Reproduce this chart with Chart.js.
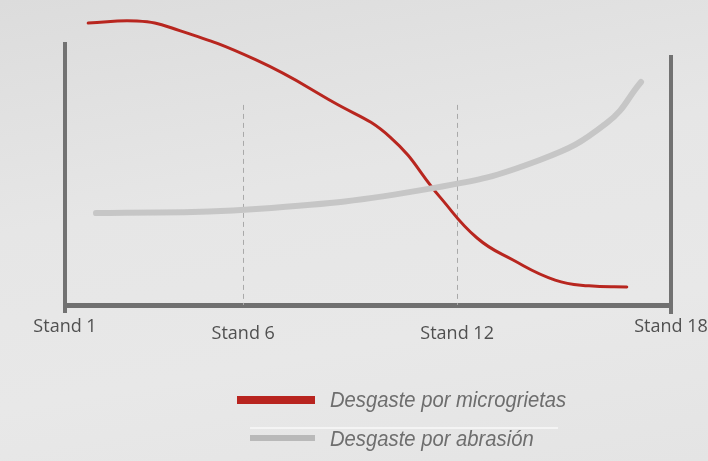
<!DOCTYPE html>
<html>
<head>
<meta charset="utf-8">
<script src="https://cdn.jsdelivr.net/npm/chart.js@4"></script>
<style>
  html,body{margin:0;padding:0;}
  body{width:708px;height:461px;overflow:hidden;background:#e4e4e4;
    background:linear-gradient(170deg,#dcdcdc 0%,#e6e6e6 40%,#e8e8e8 70%,#e4e4e4 100%);
    position:relative;font-family:"Liberation Sans",Arial,sans-serif;}
  #wrap{position:absolute;left:0;top:0;width:708px;height:461px;}
  .leg{position:absolute;font-style:italic;font-size:22px;color:#6e6e6e;line-height:26px;white-space:nowrap;
       transform:scaleX(0.92);transform-origin:left center;}
  .sw{position:absolute;}
</style>
</head>
<body>
<div id="wrap"><canvas id="c" width="708" height="461"></canvas></div>
<div class="sw" id="sw1" style="left:237px;top:396px;width:78px;height:8px;background:#b8241f;"></div>
<div class="leg" id="lg1" style="left:330px;top:387px;"></div>
<div class="sw" style="left:250px;top:427px;width:308px;height:2px;background:#f4f4f4;"></div>
<div class="sw" id="sw2" style="left:250px;top:435px;width:65px;height:6px;background:#b9b9b9;"></div>
<div class="leg" id="lg2" style="left:330px;top:426px;"></div>
<script>
// ---- data (x = stand position, y = relative wear, no units shown) ----
const tickStands = [1, 6, 12, 18];
const tickLabels = ["Stand 1", "Stand 6", "Stand 12", "Stand 18"];
const guideStands = [6, 12];
const seriesNames = ["Desgaste por microgrietas", "Desgaste por abrasión"];
const microX = [1.65, 3.02, 4.00, 6.36, 8.52, 10.12, 11.52, 12.56, 13.57, 14.75, 15.70, 16.76];
const microY = [97.2, 97.9, 95.5, 84.5, 70.0, 57.9, 37.2, 23.1, 15.5, 8.6, 6.6, 6.2];
const abrasX = [1.87, 6.36, 11.32, 14.32, 16.20, 17.16];
const abrasY = [31.7, 33.1, 40.3, 50.0, 62.8, 76.9];
// top ends of the framing lines and guide lines (in value units)
const leftFrameTop = 90.7, rightFrameTop = 86.2, guideTop = 69;

document.getElementById('lg1').textContent = seriesNames[0];
document.getElementById('lg2').textContent = seriesNames[1];

const toPts = (xs, ys) => xs.map((x, i) => ({x, y: ys[i]}));

const framePlugin = {
  id: 'frame',
  beforeDatasetsDraw(chart) {
    const {ctx, chartArea, scales} = chart;
    const x = scales.x, y = scales.y;
    ctx.save();
    ctx.strokeStyle = '#a9a9a9';
    ctx.lineWidth = 1;
    ctx.setLineDash([5, 4]);
    guideStands.forEach(s => {
      const px = Math.round(x.getPixelForValue(s)) + 0.5;
      ctx.beginPath();
      ctx.moveTo(px, y.getPixelForValue(guideTop));
      ctx.lineTo(px, chartArea.bottom);
      ctx.stroke();
    });
    ctx.setLineDash([]);
    ctx.strokeStyle = '#727272';
    ctx.lineWidth = 4;
    ctx.beginPath();
    ctx.moveTo(chartArea.left, y.getPixelForValue(leftFrameTop));
    ctx.lineTo(chartArea.left, chartArea.bottom + 8);
    ctx.stroke();
    ctx.beginPath();
    ctx.moveTo(chartArea.right, y.getPixelForValue(rightFrameTop));
    ctx.lineTo(chartArea.right, chartArea.bottom + 9);
    ctx.stroke();
    ctx.restore();
  }
};

new Chart(document.getElementById('c'), {
  type: 'line',
  data: {
    datasets: [
      {label: seriesNames[1], data: toPts(abrasX, abrasY), borderColor: '#c6c6c6', borderWidth: 6,
       borderCapStyle: 'round', pointRadius: 0, tension: 0.45, fill: false},
      {label: seriesNames[0], data: toPts(microX, microY), borderColor: '#b8261f', borderWidth: 3,
       borderCapStyle: 'round', pointRadius: 0, tension: 0.45, fill: false}
    ]
  },
  options: {
    responsive: false,
    animation: false,
    events: [],
    layout: {padding: {left: 65, right: 37, top: 15, bottom: 116}},
    plugins: {legend: {display: false}, tooltip: {enabled: false}},
    scales: {
      x: {
        type: 'linear', min: 1, max: 18,
        afterBuildTicks: s => { s.ticks = tickStands.map(v => ({value: v})); },
        afterFit: s => { s.height = 40; s.paddingLeft = 0; s.paddingRight = 0; },
        grid: {display: false, drawTicks: false},
        border: {display: true, color: '#707070', width: 5},
        ticks: {
          autoSkip: false, maxRotation: 0, padding: 11,
          color: '#505050',
          font: ctx => ({family: '"Open Sans", sans-serif', size: 18,
                         lineHeight: (ctx.index === 1 || ctx.index === 2) ? '36px' : '22px'}),
          callback: (v) => { const i = tickStands.indexOf(v); return i >= 0 ? tickLabels[i] : ''; }
        }
      },
      y: {type: 'linear', min: 0, max: 100, display: false}
    }
  },
  plugins: [framePlugin]
});
</script>
</body>
</html>
